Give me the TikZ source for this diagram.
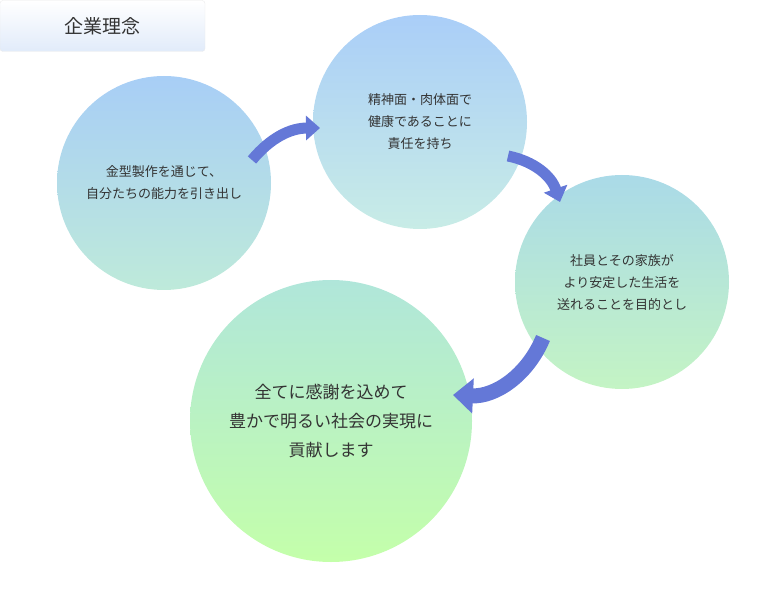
\documentclass[tikz,border=0pt]{standalone}
\usepackage{fontspec}
\newfontfamily\jp{Noto Sans CJK JP}
\usetikzlibrary{arrows.meta,positioning}
\tikzset{
  bubble/.style={circle, draw=none, align=center, font=\jp\fontsize{13}{22}\selectfont, text=black!80},
  flow/.style={line width=11pt, draw={rgb,255:red,100;green,120;blue,215}, -{Triangle[length=14pt,width=24pt]}},
}
\begin{document}
\begin{tikzpicture}[x=1pt,y=1pt]
            \useasboundingbox (0,0) rectangle (770,600);
            % title tab
            \node (title) [draw=black!8, rounded corners=3pt, top color=white, bottom color={rgb,255:red,225;green,235;blue,250},
                           minimum width=205, minimum height=51, font=\jp\fontsize{19}{19}\selectfont, text=black!80]
                           at (102.5,574) {企業理念};

            % the four circles
            \node (mold) [bubble, minimum size=214, top color={rgb,255:red,168;green,206;blue,246}, bottom color={rgb,255:red,190;green,234;blue,218}]
                         at (164,417) {金型製作を通じて、\\自分たちの能力を引き出し};
            \node (health) [bubble, minimum size=214, top color={rgb,255:red,170;green,206;blue,248}, bottom color={rgb,255:red,200;green,236;blue,230}]
                         at (420,478) {精神面・肉体面で\\健康であることに\\責任を持ち};
            \node (family) [bubble, minimum size=214, top color={rgb,255:red,170;green,218;blue,232}, bottom color={rgb,255:red,196;green,244;blue,196}]
                         at (622,318) {社員とその家族が\\より安定した生活を\\送れることを目的とし};
            \node (society) [bubble, minimum size=282, font=\jp\fontsize{17}{29}\selectfont,
                         top color={rgb,255:red,176;green,230;blue,218}, bottom color={rgb,255:red,196;green,255;blue,170}]
                         at (331,179) {全てに感謝を込めて\\豊かで明るい社会の実現に\\貢献します};

            % arrow ends
            \coordinate (a1s) at (252,440);
            \coordinate (a1e) at (320,472);
            \coordinate (a2s) at (508,444);
            \coordinate (a2e) at (560,398);
            \coordinate (a3s) at (543,262);
            \coordinate (a3e) at (453,205);

            \draw [flow, bend left=25] (a1s) to (a1e);
            \draw [flow, bend left=30] (a2s) to (a2e);
            \draw [flow, line width=15pt, -{Triangle[length=20pt,width=34pt]}, bend left=35] (a3s) to (a3e);
        \end{tikzpicture}
\end{document}
